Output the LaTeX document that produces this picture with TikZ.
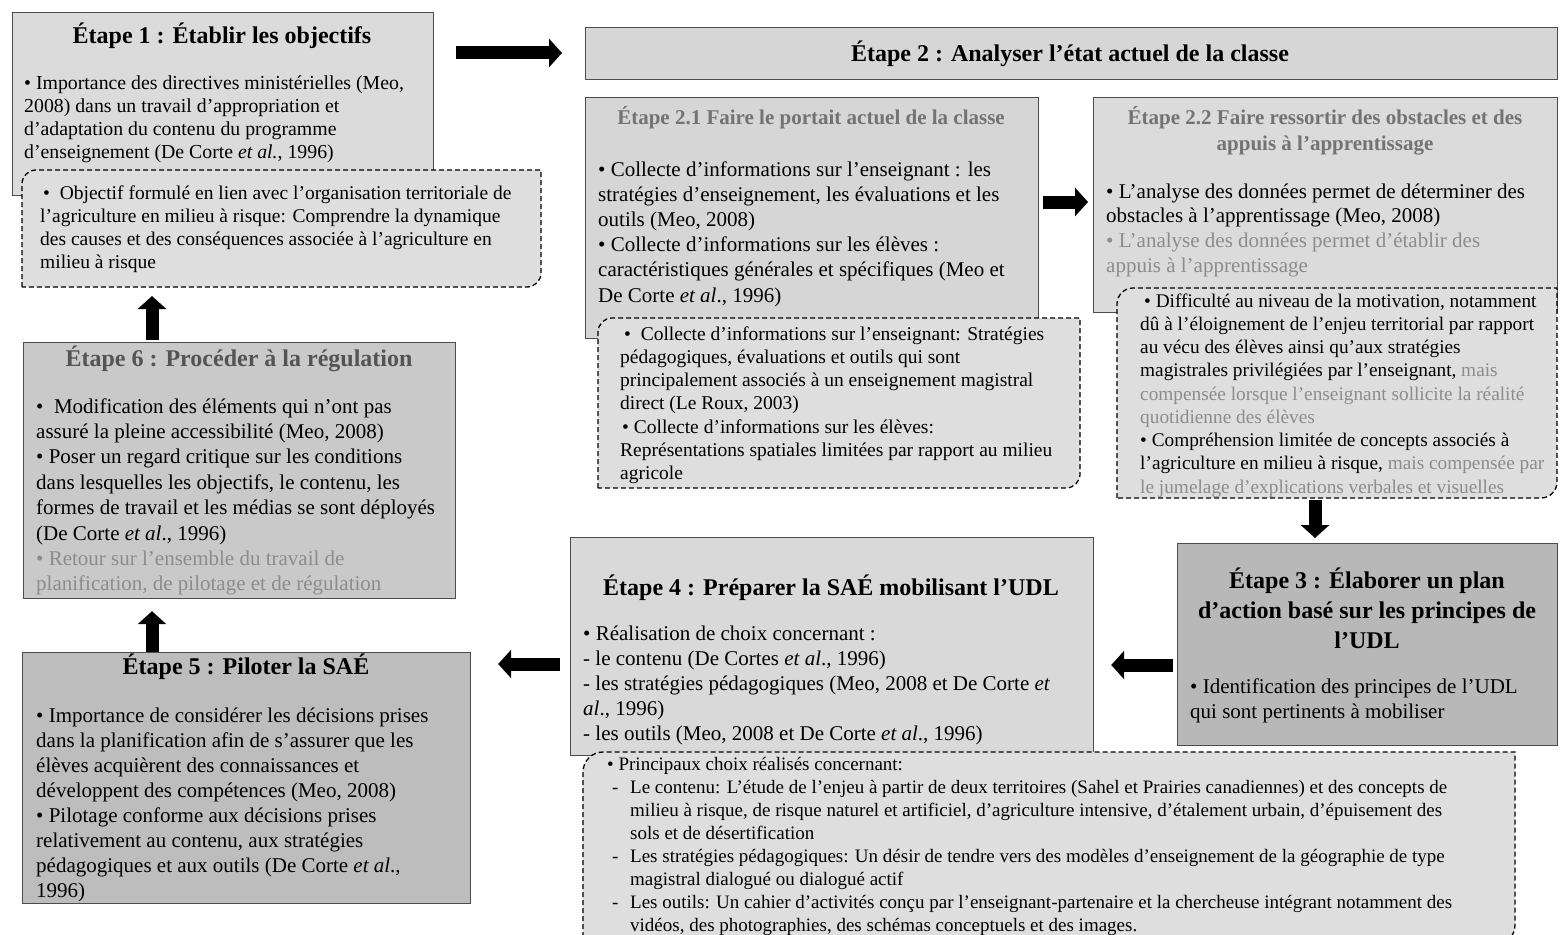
\documentclass[tikz,border=0pt]{standalone}
\usepackage{fontspec}
\setmainfont{Liberation Serif}
\usetikzlibrary{arrows.meta,calc}
\definecolor{boxline}{gray}{0.30}
\definecolor{fone}{gray}{0.86}
\definecolor{dfill}{gray}{0.87}
\definecolor{ftwo}{gray}{0.84}
\definecolor{fthree}{gray}{0.72}
\definecolor{ffour}{gray}{0.85}
\definecolor{ffive}{gray}{0.74}
\definecolor{fsix}{gray}{0.79}
\definecolor{subgray}{gray}{0.45}
\definecolor{fadegray}{gray}{0.55}
\definecolor{titlegray}{gray}{0.33}
\newcommand\mydbox[5]{\draw[dbox] (#1,#4) -- (#1,#2+#5) arc[start angle=180,end angle=90,radius=#5pt] -- (#3,#2) -- (#3,#4-#5) arc[start angle=0,end angle=-90,radius=#5pt] -- cycle;}
\begin{document}
\begin{tikzpicture}[x=1pt,y=-1pt,
  box/.style={draw=boxline, line width=1.2pt, rectangle, inner sep=0pt, anchor=north west},
  dbox/.style={draw=black, line width=1.3pt, dash pattern=on 5pt off 3pt, fill=dfill},
  bigarrow/.style={line width=13pt, -{Triangle[width=28pt,length=13pt]}},
  ttl/.style={font=\fontsize{24}{30}\selectfont\bfseries, anchor=base, align=center, inner sep=0pt},
  subttl/.style={font=\fontsize{21}{26}\selectfont\bfseries, text=subgray, anchor=base, align=center, inner sep=0pt},
  bodytxt/.style={font=\fontsize{21}{25.2}\selectfont, anchor=base west, align=left, inner sep=0pt},
  dtxt/.style={font=\fontsize{19.5}{23.3}\selectfont, anchor=base west, align=left, inner sep=0pt},
]
\useasboundingbox (0,0) rectangle (1560,934);
\clip (0,0) rectangle (1560,934);
\fill[white] (0,0) rectangle (1560,934);

% Step 1
\node[box, fill=fone, minimum width=421pt, minimum height=183pt] (s1) at (12,12) {};
\node[ttl] (t1) at (222,44) {Étape 1 : Établir les objectifs};
\node[bodytxt, font=\fontsize{19.8}{23.3}\selectfont] (b1) at (24,158.9) {• Importance des directives ministérielles (Meo,\\2008) dans un travail d'appropriation et\\d'adaptation du contenu du programme\\d'enseignement (De Corte \textit{et al.}, 1996)};
\mydbox{22}{170}{541}{287}{14}
\coordinate (d1) at (152,287);
\node[dtxt] (db1) at (40,268.9) {\hspace*{3pt}•\ \ Objectif formulé en lien avec l'organisation territoriale de\\l'agriculture en milieu à risque: Comprendre la dynamique\\des causes et des conséquences associée à l'agriculture en\\milieu à risque};

% Step 2
\node[box, fill=ftwo, minimum width=972pt, minimum height=52pt] (s2) at (585,27) {};
\node[ttl] (t2) at (1070,62) {Étape 2 : Analyser l'état actuel de la classe};

% Step 2.1
\node[box, fill=ftwo, minimum width=453pt, minimum height=241pt] (s21) at (585,97) {};
\node[subttl] (t21) at (811,124) {Étape 2.1 Faire le portait actuel de la classe};
\node[bodytxt] (b21) at (598,302) {• Collecte d'informations sur l'enseignant : les\\stratégies d'enseignement, les évaluations et les\\outils (Meo, 2008)\\• Collecte d'informations sur les élèves :\\caractéristiques générales et spécifiques (Meo et\\De Corte \textit{et al}., 1996)};
\mydbox{598}{318}{1080}{488}{14}
\node[dtxt] (db21) at (620,479.8) {\hspace*{4pt}•\ \ Collecte d'informations sur l'enseignant: Stratégies\\pédagogiques, évaluations et outils qui sont\\principalement associés à un enseignement magistral\\direct (Le Roux, 2003)\\\hspace*{2pt}• Collecte d'informations sur les élèves:\\Représentations spatiales limitées par rapport au milieu\\agricole};

% Step 2.2
\node[box, fill=fone, minimum width=464pt, minimum height=215pt] (s22) at (1093,97) {};
\node[subttl] (t22) at (1325,150) {Étape 2.2 Faire ressortir des obstacles et des\\appuis à l'apprentissage};
\node[bodytxt, font=\fontsize{21}{24.7}\selectfont] (b22) at (1106,272.1) {• L'analyse des données permet de déterminer des\\obstacles à l'apprentissage (Meo, 2008)\\{\color{fadegray}• L'analyse des données permet d'établir des}\\{\color{fadegray}appuis à l'apprentissage}};
\mydbox{1117}{288}{1557}{498}{16}
\coordinate (d22) at (1315,498);
\node[dtxt, font=\fontsize{19.3}{23.25}\selectfont] (db22) at (1140,493) {\hspace*{4pt}• Difficulté au niveau de la motivation, notamment\\dû à l'éloignement de l'enjeu territorial par rapport\\au vécu des élèves ainsi qu'aux stratégies\\magistrales privilégiées par l'enseignant, {\color{fadegray}mais}\\{\color{fadegray}compensée lorsque l'enseignant sollicite la réalité}\\{\color{fadegray}quotidienne des élèves}\\• Compréhension limitée de concepts associés à\\l'agriculture en milieu à risque, {\color{fadegray}mais compensée par}\\{\color{fadegray}le jumelage d'explications verbales et visuelles}};

% Step 3
\node[box, fill=fthree, minimum width=380pt, minimum height=202pt] (s3) at (1177,543) {};
\node[ttl] (t3) at (1367,648) {Étape 3 : Élaborer un plan\\d'action basé sur les principes de\\l'UDL};
\node[bodytxt, font=\fontsize{21}{25}\selectfont] (b3) at (1190,718) {• Identification des principes de l'UDL\\qui sont pertinents à mobiliser};

% Step 4
\node[box, fill=ffour, minimum width=523pt, minimum height=218pt] (s4) at (570,537) {};
\node[ttl] (t4) at (831,595) {Étape 4 : Préparer la SAÉ mobilisant l'UDL};
\node[bodytxt] (b4) at (583,740.8) {• Réalisation de choix concernant :\\- le contenu (De Cortes \textit{et al}., 1996)\\- les stratégies pédagogiques (Meo, 2008 et De Corte \textit{et}\\\textit{al}., 1996)\\- les outils (Meo, 2008 et De Corte \textit{et al}., 1996)};
\mydbox{583}{752}{1515}{945}{20}
\node[dtxt, font=\fontsize{19}{23}\selectfont] (db4) at (607,931) {• Principaux choix réalisés concernant:\\\hspace*{5pt}\makebox[18pt][l]{-}Le contenu: L'étude de l'enjeu à partir de deux territoires (Sahel et Prairies canadiennes) et des concepts de\\\hspace*{23pt}milieu à risque, de risque naturel et artificiel, d'agriculture intensive, d'étalement urbain, d'épuisement des\\\hspace*{23pt}sols et de désertification\\\hspace*{5pt}\makebox[18pt][l]{-}Les stratégies pédagogiques: Un désir de tendre vers des modèles d'enseignement de la géographie de type\\\hspace*{23pt}magistral dialogué ou dialogué actif\\\hspace*{5pt}\makebox[18pt][l]{-}Les outils: Un cahier d'activités conçu par l'enseignant-partenaire et la chercheuse intégrant notamment des\\\hspace*{23pt}vidéos, des photographies, des schémas conceptuels et des images.};

% Step 5
\node[box, fill=ffive, minimum width=448pt, minimum height=251pt] (s5) at (22,652) {};
\node[ttl] (t5) at (246,674) {Étape 5 : Piloter la SAÉ};
\node[bodytxt, font=\fontsize{21}{25}\selectfont] (b5) at (36,897) {• Importance de considérer les décisions prises\\dans la planification afin de s'assurer que les\\élèves acquièrent des connaissances et\\développent des compétences (Meo, 2008)\\• Pilotage conforme aux décisions prises\\relativement au contenu, aux stratégies\\pédagogiques et aux outils (De Corte \textit{et al}.,\\1996)};

% Step 6
\node[box, fill=fsix, minimum width=432pt, minimum height=256pt] (s6) at (23,342) {};
\node[ttl, text=titlegray] (t6) at (239,366) {Étape 6 : Procéder à la régulation};
\node[bodytxt, font=\fontsize{21}{25.4}\selectfont] (b6) at (36,590.8) {•\ \ Modification des éléments qui n'ont pas\\assuré la pleine accessibilité (Meo, 2008)\\• Poser un regard critique sur les conditions\\dans lesquelles les objectifs, le contenu, les\\formes de travail et les médias se sont déployés\\(De Corte \textit{et al}., 1996)\\{\color{fadegray}• Retour sur l'ensemble du travail de}\\{\color{fadegray}planification, de pilotage et de régulation}};

% Arrows
\draw[bigarrow] ($(s1.north east)+(22,41)$) -- ($(s2.north west)+(-23,26)$);
\draw[bigarrow] ($(s21.north east)+(4,105)$) -- ($(s22.north west)+(-5,105)$);
\draw[bigarrow] ($(d22)+(0,2)$) -- ($(s3.north west)+(138,-5)$);
\draw[bigarrow] ($(s3.north west)+(-4,122)$) -- ($(s4.north east)+(17,128)$);
\draw[bigarrow] ($(s4.north west)+(-10,127)$) -- ($(s5.north east)+(27,12)$);
\draw[bigarrow] ($(s5.north west)+(130,0)$) -- ($(s6.south west)+(129,12)$);
\draw[bigarrow] ($(s6.north west)+(129,-2)$) -- ($(d1)+(0,9)$);
\end{tikzpicture}
\end{document}
